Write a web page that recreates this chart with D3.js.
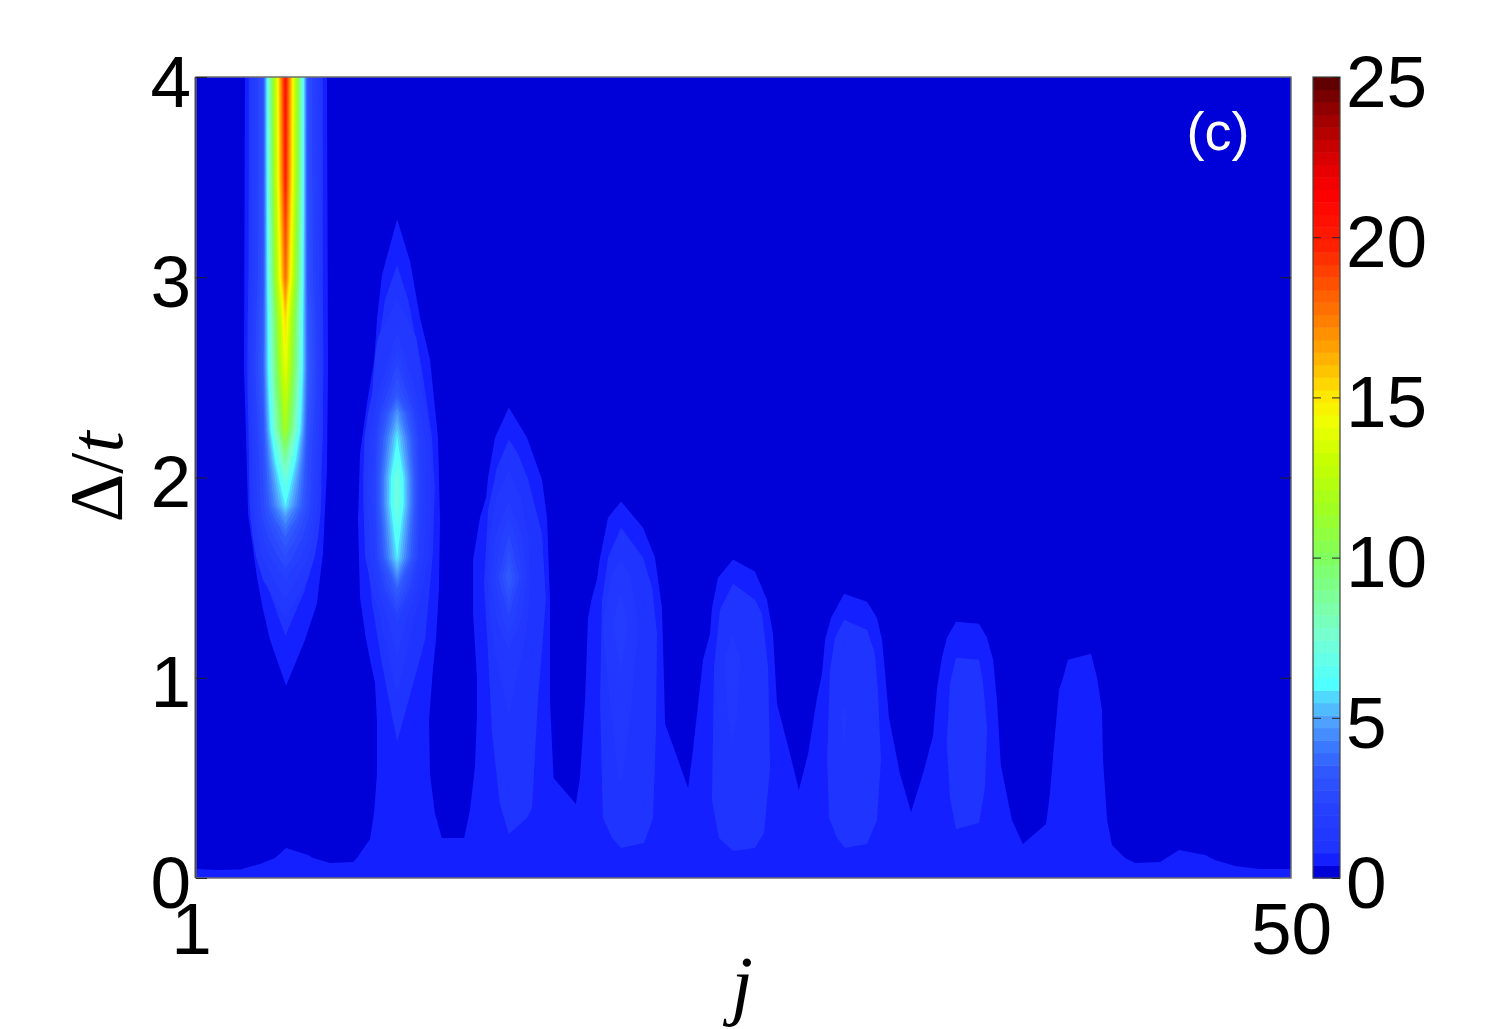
<!DOCTYPE html>
<html><head><meta charset="utf-8">
<script src="https://cdn.jsdelivr.net/npm/d3@7"></script>
<style>
html,body{margin:0;padding:0;background:#fff;overflow:hidden}
text{font-family:"Liberation Sans",Arial,sans-serif;fill:#000}
</style></head><body>
<svg id="chart" width="1506" height="1029"></svg>
<script>
// ---------- axes ----------
const xTicks = [1, 50];
const yTicks = [0, 1, 2, 3, 4];
const colorTicks = [0, 5, 10, 15, 20, 25];
const bandCount = 64;

// ---------- colormap (band index -> colour) ----------
const bandStops = [0, 1, 2, 5, 8, 10, 12, 14, 15, 19, 25, 29, 33, 36, 38, 42, 46, 50, 54, 56, 58, 61, 63];
const bandStopColors = ["#0000d8", "#1420ff", "#2034ff", "#2640ff", "#3058ff", "#3a78ff", "#50a0ff", "#50d8ff", "#50ffff", "#78ffd0", "#80ff60", "#a0ff20", "#c8ff00", "#f0ff00", "#ffe800", "#ffa000", "#ff6000", "#ff2000", "#ff0000", "#e80000", "#c80000", "#900000", "#600000"];

// ---------- lowest contour (value ~0.4), [j, delta/t] ----------
const baseOutline = [[1,.045],[1.98,.04],[2.97,.043],[3.86,.07],[4.54,.1],[5.03,.15],[6.01,.115],[6.24,.1],[7,.075],[8.03,.08],[8.2,.1],[8.79,.195],[8.97,.325],[9.1,.525],[9.1,.775],[9.01,.975],[8.88,1.04],[8.61,1.19],[8.34,1.4],[8.25,1.79],[8.34,2.12],[8.65,2.37],[8.97,2.58],[9.1,2.79],[9.32,3.01],[10,3.29],[10.58,3.08],[11.02,2.8],[11.47,2.59],[11.83,2.2],[11.92,1.79],[11.87,1.44],[11.74,1.19],[11.6,1.04],[11.43,.79],[11.47,.52],[11.69,.325],[12,.2],[13,.2],[13.26,.34],[13.48,.55],[13.57,.8],[13.57,1],[13.4,1.32],[13.4,1.59],[13.71,1.8],[13.98,1.9],[14.07,2],[14.38,2.2],[15,2.35],[15.81,2.2],[16.48,1.99],[16.71,1.8],[16.84,1.39],[16.84,.89],[17,.5],[18,.37],[18.18,.5],[18.41,.89],[18.54,1.3],[18.72,1.4],[18.94,1.49],[19.08,1.6],[19.44,1.8],[20.02,1.88],[21,1.75],[21.54,1.6],[21.85,1.35],[21.94,1],[21.99,.77],[23.02,.45],[23.24,.64],[23.69,1.09],[24,1.22],[24.09,1.35],[24.36,1.5],[25.03,1.59],[26.01,1.53],[26.55,1.39],[26.82,1.22],[27,.87],[27.58,.62],[27.98,.44],[28.39,.62],[28.79,.9],[29.01,1.02],[29.15,1.19],[29.42,1.3],[30,1.42],[31.03,1.38],[31.47,1.3],[31.7,1.19],[31.88,.97],[32.01,.8],[32.5,.52],[33,.33],[33.53,.52],[33.98,.71],[34.16,.95],[34.38,1.1],[34.6,1.2],[35.01,1.28],[36.04,1.27],[36.4,1.2],[36.67,1.09],[36.84,.89],[37.02,.56],[37.51,.29],[38,.17],[39.04,.27],[39.21,.42],[39.44,.72],[39.62,.94],[39.8,1],[40.02,1.09],[41.05,1.12],[41.32,1],[41.54,.84],[41.59,.59],[41.77,.29],[41.99,.165],[42.57,.1],[43.02,.075],[44.14,.08],[44.99,.14],[46.15,.115],[46.6,.09],[47.5,.06],[48.6,.045],[50,.045],[50,0],[1,0]];
const firstLobeOutline = [[3.19,4],[3.15,2.54],[3.28,2.04],[3.33,1.82],[3.73,1.5],[4,1.34],[4.31,1.19],[5.03,.96],[5.88,1.19],[6.41,1.37],[6.68,1.62],[6.86,2.04],[6.91,2.54],[6.86,4]];

// ---------- second contour (value ~0.8), one island per lobe ----------
const secondLobe1 = [[3.46,4],[3.33,2.54],[3.64,1.82],[4,1.62],[4.22,1.45],[5,1.21],[5.88,1.44],[6.46,1.74],[6.68,2.2],[6.68,4]];
const secondLobe2 = [[10,3.06],[9.46,2.89],[9.19,2.69],[9.14,2.54],[8.88,2.29],[8.56,1.95],[8.56,1.7],[8.88,1.37],[9.32,1.07],[10,.68],[10.89,1.04],[11.25,1.19],[11.6,1.62],[11.69,1.95],[11.56,2.2],[11.11,2.54],[10.8,2.71],[10.49,2.89]];
const secondLobe3 = [[15,2.19],[14.47,2.05],[14.07,1.84],[13.89,1.47],[14.02,1.22],[14.25,.72],[14.6,.37],[15,.22],[15.81,.3],[16.04,.35],[16.3,.89],[16.66,1.39],[16.48,1.72],[15.86,1.99],[15.41,2.12]];
const secondLobe4 = [[20.02,1.75],[19.44,1.6],[19.17,1.39],[19.08,.89],[19.21,.3],[19.62,.2],[20.02,.15],[21.05,.175],[21.45,.3],[21.58,.72],[21.63,1.22],[21.41,1.45],[21,1.6]];
const secondLobe5 = [[25.03,1.47],[24.45,1.34],[24.18,1.05],[24.09,.39],[24.4,.2],[25.03,.135],[26.01,.15],[26.42,.225],[26.69,.55],[26.6,1.05],[26.33,1.32],[26.01,1.39]];
const secondLobe6 = [[30,1.29],[29.6,1.2],[29.37,1.04],[29.24,.59],[29.33,.3],[29.69,.2],[30.04,.15],[31.03,.17],[31.47,.29],[31.65,.59],[31.52,.92],[31.38,1.12],[31.03,1.24]];
const secondLobe7 = [[35.01,1.1],[34.74,.97],[34.6,.67],[34.74,.4],[35.01,.245],[36.04,.275],[36.3,.45],[36.4,.75],[36.22,.97],[36.04,1.09]];
const secondContours = [secondLobe1, secondLobe2, secondLobe3, secondLobe4, secondLobe5, secondLobe6, secondLobe7];

// ---------- peak fields: value on site j (centre) and j+-1 (side) per delta/t ----------
const peakSites = [5, 10, 15, 20, 25, 30];
const peak5Delta = [.96,1.2,1.5,1.6,1.7,1.8,1.86,1.94,2.09,2.24,2.4,2.55,2.8,3,3.5,4,4.2];
const peak5Center = [.39,.78,2,2.7,3.5,4.7,5.9,6.6,8.6,11.7,13,14.2,15.5,18,20,20.5,20.5];
const peak5Side = [.1,.4,1.2,1.6,2,2.4,2.6,2.7,2.8,3,3.3,3.5,3.3,3,2.9,2.9,2.9];
const peak10Delta = [.69,1,1.29,1.44,1.6,1.87,2,2.2,2.32,2.42,2.7,3.06,3.29];
const peak10Center = [.78,1.3,2,3.5,5.9,7.4,7.3,5.9,4.7,3.2,1.6,.78,.39];
const peak10Side = [.3,.6,.9,1.3,1.9,2.2,2.2,2,1.6,1.3,1.1,.5,.2];
const peak15Delta = [.22,.6,1.1,1.3,1.5,1.7,1.9,2.2];
const peak15Center = [.78,1,1.4,2.3,3.5,2.4,1.5,.78];
const peak15Side = [.5,.9,1,1,1.05,1,.9,.4];
const peak20Delta = [.15,.5,.9,1.27,1.5,1.75];
const peak20Center = [.78,1.2,1.4,1.85,1.4,.8];
const peak20Side = [.4,.85,.95,1,.9,.4];
const peak25Delta = [.14,.4,.8,1.1,1.47];
const peak25Center = [.7,1,1.25,1.35,.78];
const peak25Side = [.4,.8,.85,.85,.4];
const peak30Delta = [.15,.5,.8,1.29];
const peak30Center = [.7,1.1,1.22,.78];
const peak30Side = [.4,.8,.85,.4];
const peakDeltas = [peak5Delta, peak10Delta, peak15Delta, peak20Delta, peak25Delta, peak30Delta];
const peakCenters = [peak5Center, peak10Center, peak15Center, peak20Center, peak25Center, peak30Center];
const peakSides = [peak5Side, peak10Side, peak15Side, peak20Side, peak25Side, peak30Side];
const peakFloor = 0.2;

// ---------- layout ----------
const plot = {left: 196, right: 1291, top: 77, bottom: 878};
const bar = {left: 1313, right: 1340};
const tickFont = 73;

const svg = d3.select("#chart");
const x = d3.scaleLinear().domain([1, 50]).range([plot.left, plot.right]);
const y = d3.scaleLinear().domain([0, 4]).range([plot.bottom, plot.top]);
const cValue = d3.scaleLinear().domain([0, 25]).range([plot.bottom, plot.top]);

const bandStep = 25 / bandCount;
const bandColorScale = d3.scaleLinear().domain(bandStops).range(bandStopColors).interpolate(d3.interpolateRgb);
const bandColors = d3.range(bandCount).map(i => bandColorScale(i));

svg.append("defs").append("clipPath").attr("id", "plot-clip").append("rect")
  .attr("x", plot.left).attr("y", plot.top)
  .attr("width", plot.right - plot.left).attr("height", plot.bottom - plot.top);

const field = svg.append("g").attr("clip-path", "url(#plot-clip)");
field.append("rect").attr("x", plot.left).attr("y", plot.top)
  .attr("width", plot.right - plot.left).attr("height", plot.bottom - plot.top)
  .attr("fill", bandColors[0]);

const outline = d3.line().x(d => x(d[0])).y(d => y(d[1])).curve(d3.curveLinearClosed);
field.selectAll("path.first").data([baseOutline, firstLobeOutline]).join("path")
  .attr("class", "first").attr("d", outline).attr("fill", bandColors[1]);
field.selectAll("path.second").data(secondContours).join("path")
  .attr("class", "second").attr("d", outline).attr("fill", bandColors[2]);

// peak fields drawn as filled contours, one threshold per colour band
const thresholds = d3.range(3, bandCount).map(k => k * bandStep);
const offsets = [-2, -1, 0, 1, 2];
peakSites.forEach((site, p) => {
  const deltas = peakDeltas[p], center = peakCenters[p], side = peakSides[p];
  const values = [];
  deltas.forEach((_, r) => values.push(peakFloor, side[r], center[r], side[r], peakFloor));
  const rowToDelta = d3.scaleLinear().domain(d3.range(deltas.length)).range(deltas);
  const path = d3.geoPath(d3.geoTransform({
    point(px, py) { this.stream.point(x(site + offsets[0] + px - 0.5), y(rowToDelta(py - 0.5))); }
  }));
  const contours = d3.contours().size([offsets.length, deltas.length]).smooth(true)
    .thresholds(thresholds)(values).filter(c => c.coordinates.length);
  field.append("g").selectAll("path").data(contours).join("path")
    .attr("d", path)
    .attr("fill", c => bandColors[Math.min(bandCount - 1, Math.round(c.value / bandStep))]);
});

// frame
svg.append("rect").attr("x", plot.left).attr("y", plot.top)
  .attr("width", plot.right - plot.left).attr("height", plot.bottom - plot.top)
  .attr("fill", "none").attr("stroke", "#6e6e6e").attr("stroke-width", 1.5);
svg.append("line").attr("x1", plot.left - .5).attr("x2", plot.left - .5).attr("y1", plot.top).attr("y2", plot.bottom)
  .attr("stroke", "#4a4a55").attr("stroke-width", 2);

// axes
function styleAxis(g) {
  g.select(".domain").remove();
  g.selectAll("text").attr("font-size", tickFont).style("fill", "#000");
  g.selectAll("line").attr("stroke", "#222").attr("stroke-width", 1);
}
svg.append("g").attr("transform", `translate(0,${plot.bottom})`)
  .call(d3.axisBottom(x).tickValues(xTicks).tickSize(0).tickPadding(24).tickFormat(d3.format("d")))
  .call(styleAxis)
  .call(g => g.selectAll("text").filter(d => d === 1).attr("x", -5));
svg.append("g").attr("transform", `translate(${plot.left},0)`)
  .call(d3.axisLeft(y).tickValues(yTicks).tickSizeInner(-11).tickSizeOuter(0).tickPadding(5).tickFormat(d3.format("d")))
  .call(styleAxis)
  .call(g => g.selectAll("text").attr("x", -5).attr("dy", "0.40em"));
svg.append("g").attr("transform", `translate(${plot.right},0)`)
  .call(d3.axisRight(y).tickValues(yTicks.slice(1, 4)).tickSizeInner(-11).tickSizeOuter(0).tickFormat(""))
  .call(styleAxis);

// colour bar
svg.append("g").selectAll("rect").data(bandColors).join("rect")
  .attr("x", bar.left).attr("width", bar.right - bar.left)
  .attr("y", (d, i) => cValue((i + 1) * bandStep))
  .attr("height", (d, i) => cValue(i * bandStep) - cValue((i + 1) * bandStep) + 0.5)
  .attr("fill", d => d);
svg.append("rect").attr("x", bar.left).attr("y", plot.top)
  .attr("width", bar.right - bar.left).attr("height", plot.bottom - plot.top)
  .attr("fill", "none").attr("stroke", "#444").attr("stroke-width", 1.2);
svg.append("g").attr("transform", `translate(${bar.right},0)`)
  .call(d3.axisRight(cValue).tickValues(colorTicks).tickSizeInner(-8).tickSizeOuter(0).tickPadding(8).tickFormat(d3.format("d")))
  .call(styleAxis)
  .call(g => g.selectAll("text").attr("x", 6).attr("dy", "0.40em"));
svg.append("g").attr("transform", `translate(${bar.left},0)`)
  .call(d3.axisLeft(cValue).tickValues(colorTicks.slice(1, 5)).tickSizeInner(-8).tickSizeOuter(0).tickFormat(""))
  .call(styleAxis);

// labels
svg.append("text").attr("x", 1218).attr("y", 150).attr("text-anchor", "middle")
  .attr("font-size", 54).style("fill", "#fff").text("(c)");
svg.append("text").attr("x", 742).attr("y", 1010).attr("text-anchor", "middle")
  .attr("font-size", 78).attr("font-style", "italic")
  .style("font-family", "'Liberation Serif',serif").text("j");
const yLabel = svg.append("text").attr("transform", "translate(122,477) rotate(-90)")
  .attr("text-anchor", "middle").attr("font-size", 76)
  .style("font-family", "'Liberation Serif',serif");
yLabel.append("tspan").text("Δ/");
yLabel.append("tspan").attr("font-style", "italic").text("t");
</script>
</body></html>
